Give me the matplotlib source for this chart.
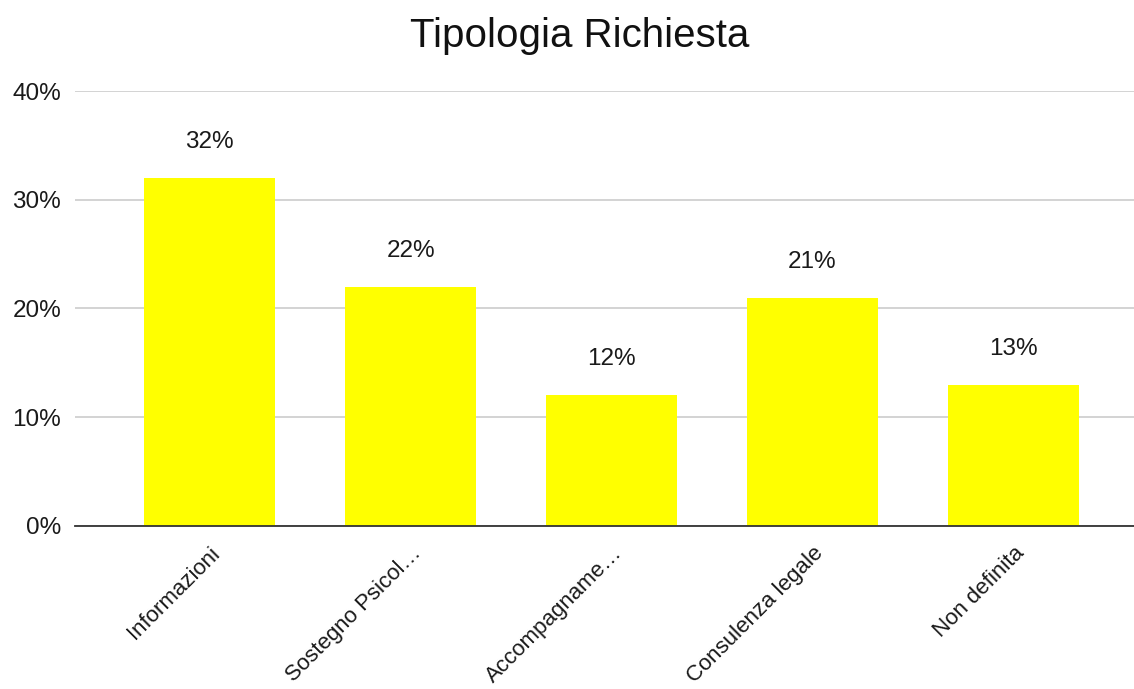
import matplotlib
matplotlib.use("Agg")
import matplotlib.pyplot as plt
from matplotlib.ticker import FuncFormatter

plt.rcParams['font.family'] = ['Liberation Sans', 'DejaVu Sans']

categories = ["Informazioni", "Sostegno Psicol…", "Accompagname…", "Consulenza legale", "Non definita"]
values = [0.32, 0.22, 0.12, 0.21, 0.13]
value_labels = ["32%", "22%", "12%", "21%", "13%"]
y_ticks = [0.0, 0.1, 0.2, 0.3, 0.4]

fig = plt.figure(figsize=(11.34, 6.89), dpi=100)
ax = fig.add_axes([0.0661, 0.2366, 0.934, 0.6313])

x = range(len(categories))
bars = ax.bar(x, values, width=0.65, color="#ffff00", zorder=3)

for rect, lab in zip(bars, value_labels):
    ax.annotate(lab, (rect.get_x() + rect.get_width() / 2, rect.get_height()),
                xytext=(0, 26), textcoords="offset points", ha="center", va="center",
                fontsize=17.5, color="#1a1a1a")

ax.set_ylim(0, 0.40)
ax.set_xlim(-0.67, 4.6)
ax.set_yticks(y_ticks)
ax.yaxis.set_major_formatter(FuncFormatter(lambda v, p: f"{v*100:.0f}%"))
ax.grid(axis="y", color="#cccccc", linewidth=1.2, zorder=0)
ax.tick_params(axis="y", length=0, labelsize=17.5, pad=10, labelcolor="#1a1a1a")
ax.tick_params(axis="x", length=0, labelsize=16, pad=12, labelcolor="#1a1a1a")
ax.set_xticks(list(x))
ax.set_xticklabels(categories, rotation=45, ha="right", rotation_mode="anchor")
for s in ["top", "right", "left"]:
    ax.spines[s].set_visible(False)
ax.spines["bottom"].set_color("#333333")
ax.spines["bottom"].set_linewidth(1.3)
ax.spines["bottom"].set_zorder(4)

fig.text(0.511, 0.948, "Tipologia Richiesta", ha="center", va="center", fontsize=29, color="#111111")

fig.savefig("out.png", dpi=100)
